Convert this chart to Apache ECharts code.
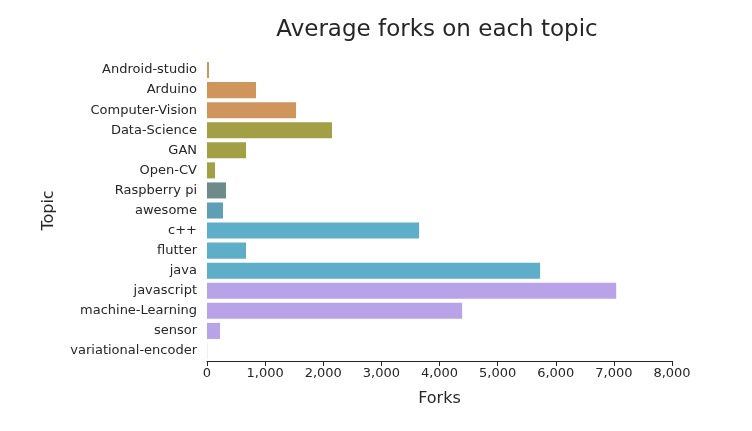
<!DOCTYPE html>
<html>
<head>
<meta charset="utf-8">
<script src="https://cdn.jsdelivr.net/npm/echarts@6/dist/echarts.min.js"></script>
<style>html,body{margin:0;padding:0;background:#fff}#main{width:752px;height:431px}</style>
</head>
<body>
<div id="main"></div>
<script>
let topics = ['Android-studio', 'Arduino', 'Computer-Vision', 'Data-Science', 'GAN', 'Open-CV', 'Raspberry pi',
    'awesome', 'c++', 'flutter', 'java', 'javascript', 'machine-Learning', 'sensor', 'variational-encoder'];
let forks = [35, 843, 1532, 2151, 671, 138, 327, 275, 3649, 671, 5731, 7040, 4389, 224, 5];
let colors = ['#d0955c', '#d0955c', '#d0955c', '#a29f45', '#a29f45', '#a29f45', '#6f8a8a', '#5e9fb5',
    '#5eaec9', '#5eaec9', '#5eaec9', '#b9a3e8', '#b9a3e8', '#b9a3e8', '#c8c8c8'];
let xTicks = [0, 1000, 2000, 3000, 4000, 5000, 6000, 7000, 8000];

let chart = echarts.init(document.getElementById('main'));
let font = 'DejaVu Sans';
chart.setOption({
    animation: false,
    title: {
        text: 'Average forks on each topic',
        left: 432, top: 14, textAlign: 'center',
        textStyle: {fontFamily: font, fontSize: 23, fontWeight: 'normal', color: '#262626'}
    },
    grid: {left: 207, right: 80, top: 60, bottom: 70},
    xAxis: {
        type: 'value', min: xTicks[0], max: xTicks[xTicks.length - 1], interval: 1000,
        name: 'Forks', nameLocation: 'middle', nameGap: 30,
        nameTextStyle: {fontFamily: font, fontSize: 16, color: '#262626'},
        axisLine: {show: true, lineStyle: {color: '#262626', width: 1.2}},
        axisTick: {show: true, length: 5, lineStyle: {color: '#262626'}},
        axisLabel: {fontFamily: font, fontSize: 13, color: '#262626', margin: 6},
        splitLine: {show: false}
    },
    yAxis: {
        type: 'category', data: topics, inverse: true,
        name: 'Topic', nameLocation: 'middle', nameGap: 150, nameRotate: 90,
        nameTextStyle: {fontFamily: font, fontSize: 16, color: '#262626'},
        axisLine: {show: false}, axisTick: {show: false},
        axisLabel: {fontFamily: font, fontSize: 13, color: '#262626', margin: 10}
    },
    series: [{
        type: 'bar', barWidth: '80%',
        data: forks.map((v, i) => ({value: v, itemStyle: {color: colors[i]}}))
    }]
});
</script>
</body>
</html>
